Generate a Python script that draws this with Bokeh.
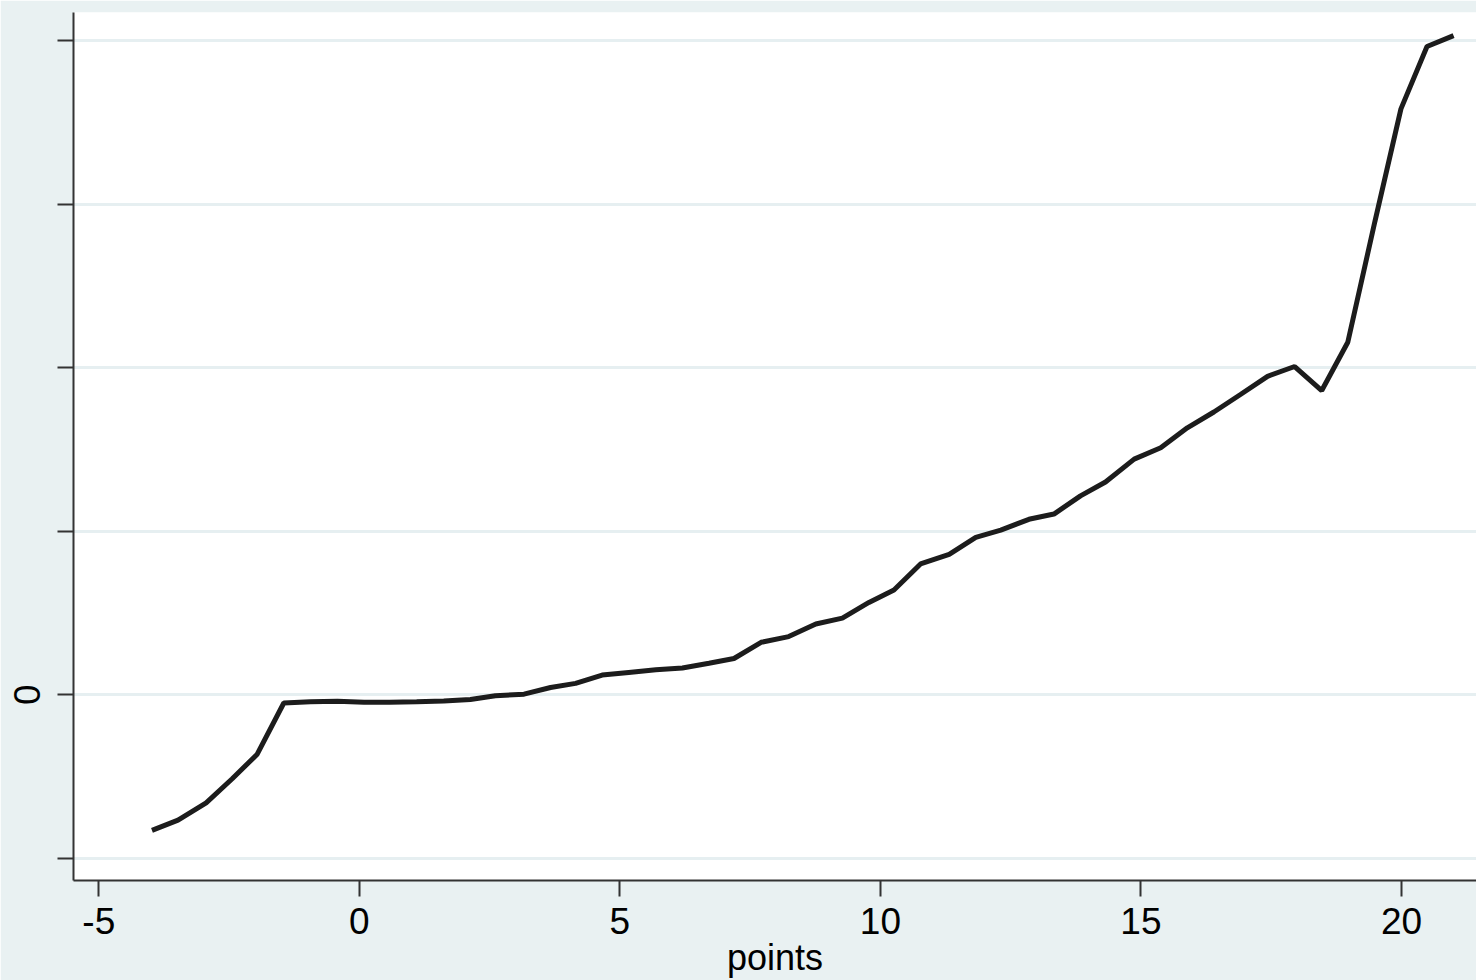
from bokeh.plotting import figure
from bokeh.models import FixedTicker, Range1d, CustomJSTickFormatter
from bokeh.embed import file_html
from bokeh.resources import INLINE

# data
points = [-3.98, -3.48, -2.94, -2.44, -1.96, -1.45, -0.94, -0.42, 0.09, 0.58,
          1.10, 1.62, 2.13, 2.61, 3.16, 3.67, 4.15, 4.66, 5.17, 5.69,
          6.20, 6.71, 7.19, 7.71, 8.24, 8.76, 9.27, 9.78, 10.26, 10.77,
          11.32, 11.83, 12.31, 12.85, 13.33, 13.84, 14.32, 14.87, 15.38, 15.89,
          16.40, 16.91, 17.43, 17.95, 18.47, 18.97, 19.49, 19.99, 20.49, 21.00]
yvals = [-0.829, -0.766, -0.660, -0.513, -0.363, -0.050, -0.043, -0.039, -0.045, -0.045,
         -0.042, -0.038, -0.028, -0.006, 0.004, 0.045, 0.070, 0.121, 0.137, 0.153,
         0.164, 0.193, 0.222, 0.321, 0.356, 0.433, 0.469, 0.565, 0.641, 0.800,
         0.858, 0.963, 1.007, 1.073, 1.105, 1.216, 1.301, 1.441, 1.510, 1.632,
         1.729, 1.836, 1.947, 2.007, 1.860, 2.155, 2.893, 3.582, 3.963, 4.030]
x_ticks = [-5, 0, 5, 10, 15, 20]
y_ticks = [-1, 0, 1, 2, 3, 4]
x_title = "points"

BG = "#E9F1F2"
FONT = "Liberation Sans"

p = figure(width=1476, height=980, output_backend="svg", toolbar_location=None,
           x_range=Range1d(-5.486, 21.44), y_range=Range1d(-1.135, 4.171),
           min_border_left=73, min_border_right=0, min_border_top=12, min_border_bottom=100)
p.background_fill_color = "white"
p.border_fill_color = BG
p.outline_line_color = None

p.line(points, yvals, line_width=5, line_color="#1c1c1c")

p.xaxis.ticker = FixedTicker(ticks=x_ticks)
p.yaxis.ticker = FixedTicker(ticks=y_ticks)
p.xaxis.formatter = CustomJSTickFormatter(code="return tick.toFixed(0);")
p.yaxis.formatter = CustomJSTickFormatter(code="return tick == 0 ? '0' : '';")
p.yaxis.major_label_orientation = "vertical"

for ax in (p.xaxis[0], p.yaxis[0]):
    ax.axis_line_color = "#333333"
    ax.axis_line_width = 2
    ax.major_tick_line_color = "#333333"
    ax.major_tick_line_width = 2
    ax.major_tick_out = 16
    ax.major_tick_in = 0
    ax.minor_tick_line_color = None
    ax.major_label_text_font = FONT
    ax.major_label_text_font_size = "37px"
    ax.major_label_text_color = "black"

p.xaxis.major_label_standoff = 11
p.yaxis.major_label_standoff = 17

p.xaxis.axis_label = x_title
p.xaxis.axis_label_text_font = FONT
p.xaxis.axis_label_text_font_size = "36px"
p.xaxis.axis_label_text_font_style = "normal"
p.xaxis.axis_label_text_color = "black"
p.xaxis.axis_label_standoff = 0

p.xgrid.visible = False
p.ygrid.ticker = FixedTicker(ticks=y_ticks)
p.ygrid.grid_line_color = "#E6EFF1"
p.ygrid.grid_line_width = 3

open("out.html", "w").write(file_html(p, INLINE))
